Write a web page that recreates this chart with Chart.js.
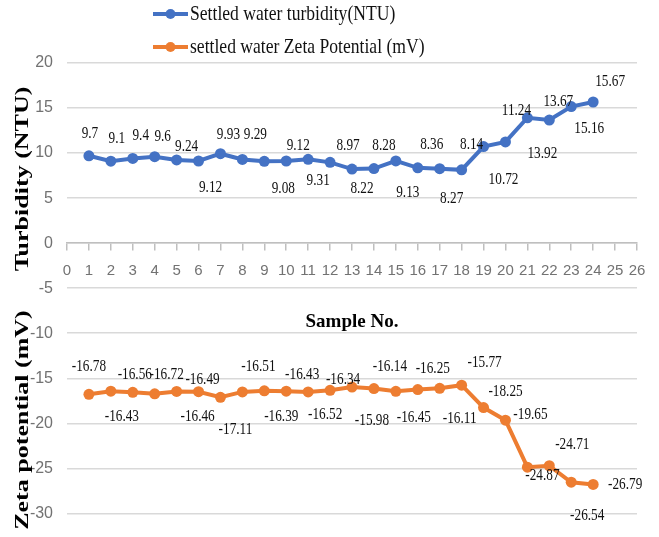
<!DOCTYPE html>
<html>
<head>
<meta charset="utf-8">
<script src="https://cdn.jsdelivr.net/npm/chart.js@4.4.1/dist/chart.umd.min.js"></script>
<style>
  body { margin: 0; background: #fff; }
  #wrap { width: 659px; height: 537px; }
</style>
</head>
<body>
<div id="wrap"><canvas id="chart" width="659" height="537"></canvas></div>
<script>
// data
const sampleNo = [1, 2, 3, 4, 5, 6, 7, 8, 9, 10, 11, 12, 13, 14, 15, 16, 17, 18, 19, 20, 21, 22, 23, 24];
const turbidity = [9.7, 9.1, 9.4, 9.6, 9.24, 9.12, 9.93, 9.29, 9.08, 9.12, 9.31, 8.97, 8.22, 8.28, 9.13, 8.36, 8.27, 8.14, 10.72, 11.24, 13.92, 13.67, 15.16, 15.67];
const zeta = [-16.78, -16.43, -16.56, -16.72, -16.46, -16.49, -17.11, -16.51, -16.39, -16.43, -16.52, -16.34, -15.98, -16.14, -16.45, -16.25, -16.11, -15.77, -18.25, -19.65, -24.87, -24.71, -26.54, -26.79];
const xMin = 0, xMax = 26, xStep = 1;
const yMin = -30, yMax = 20, yStep = 5;

// where each value label sits relative to its point (px)
const turbLabelOffset = [[1,-22],[6,-23],[8,-23],[8,-20],[10,-13],[12,27],[8,-19],[13,-25],[19,27],[12,-15],[10,21],[18,-17],
  [10,19],[10,-23],[12,32],[14,-23],[12,30],[10,-25],[20,33],[11,-31],[15,36],[9,-18],[18,22],[17,-20]];
const zetaLabelOffset = [[0,-28],[11,25],[2,-18],[12,-19],[21,25],[4,-12],[15,32],[16,-25],[17,26],[16,-17],[17,23],[13,-11],
  [20,33],[16,-22],[18,26],[15,-21],[20,30],[23,-23],[22,-16],[25,-6],[15,8],[23,-21],[16,33],[32,0]];

const blue = "#4472C4";
const orange = "#ED7D31";
const serif = "'Liberation Serif', 'Times New Roman', serif";
const narrow = "'Liberation Sans Narrow', 'Liberation Sans', Arial, sans-serif";
const tickGray = "#727272";

// value labels next to the points
const valueLabels = {
  id: "valueLabels",
  afterDatasetsDraw(chart) {
    const ctx = chart.ctx;
    chart.data.datasets.forEach((ds, di) => {
      const meta = chart.getDatasetMeta(di);
      meta.data.forEach((pt, i) => {
        const off = ds.labelOffset[i];
        ctx.save();
        ctx.translate(pt.x + off[0], pt.y + off[1]);
        ctx.scale(0.78, 1);
        ctx.font = "17px " + serif;
        ctx.fillStyle = "#111";
        ctx.textAlign = "center";
        ctx.textBaseline = "middle";
        ctx.fillText(String(ds.data[i].y), 0, 0);
        ctx.restore();
      });
    });
  }
};

// legend stacked in two rows + the two rotated axis titles
const extras = {
  id: "extras",
  afterDraw(chart) {
    const ctx = chart.ctx;
    chart.data.datasets.forEach((ds, i) => {
      const y = 14 + i * 33;
      ctx.save();
      ctx.strokeStyle = ds.borderColor;
      ctx.lineWidth = 4;
      ctx.beginPath();
      ctx.moveTo(153, y);
      ctx.lineTo(188, y);
      ctx.stroke();
      ctx.fillStyle = ds.borderColor;
      ctx.beginPath();
      ctx.arc(170.5, y, 5, 0, Math.PI * 2);
      ctx.fill();
      ctx.translate(190, y);
      ctx.scale(0.8, 1);
      ctx.font = "22px " + serif;
      ctx.fillStyle = "#111";
      ctx.textBaseline = "middle";
      ctx.fillText(ds.label, 0, 0);
      ctx.restore();
    });

    const titles = [["Turbidity (NTU)", 179], ["Zeta potential (mV)", 420]];
    titles.forEach(([text, cy]) => {
      ctx.save();
      ctx.translate(23, cy);
      ctx.rotate(-Math.PI / 2);
      ctx.scale(1, 0.75);
      ctx.font = "bold 26px " + serif;
      ctx.fillStyle = "#000";
      ctx.textAlign = "center";
      ctx.textBaseline = "middle";
      ctx.fillText(text, 0, 0);
      ctx.restore();
    });
  }
};

function makeSeries(values) {
  return sampleNo.map((n, i) => ({ x: n, y: values[i] }));
}

new Chart(document.getElementById("chart"), {
  type: "line",
  data: {
    datasets: [
      {
        label: "Settled water turbidity(NTU)",
        data: makeSeries(turbidity),
        borderColor: blue,
        backgroundColor: blue,
        borderWidth: 4,
        pointRadius: 5.5,
        pointBorderWidth: 0,
        labelOffset: turbLabelOffset
      },
      {
        label: "settled water Zeta Potential (mV)",
        data: makeSeries(zeta),
        borderColor: orange,
        backgroundColor: orange,
        borderWidth: 4,
        pointRadius: 5.5,
        pointBorderWidth: 0,
        labelOffset: zetaLabelOffset
      }
    ]
  },
  options: {
    responsive: false,
    animation: false,
    layout: { padding: { top: 63, right: 22, bottom: 12, left: 0 } },
    plugins: {
      legend: { display: false },
      tooltip: { enabled: false }
    },
    scales: {
      x: {
        type: "linear",
        position: { y: 0 },
        min: xMin,
        max: xMax,
        ticks: {
          stepSize: xStep,
          autoSkip: false,
          maxRotation: 0,
          padding: 12,
          color: tickGray,
          font: { family: narrow, size: 15 }
        },
        grid: { drawOnChartArea: false, color: "#bfbfbf", lineWidth: 1.5, tickLength: 7 },
        border: { color: "#bfbfbf", width: 1.5 },
        title: {
          display: true,
          text: "Sample No.",
          color: "#000",
          font: { family: serif, size: 19, weight: "bold" },
          padding: { top: 19, bottom: 0 }
        }
      },
      y: {
        min: yMin,
        max: yMax,
        ticks: {
          stepSize: yStep,
          padding: 14,
          color: tickGray,
          font: { family: narrow, size: 16 }
        },
        grid: { color: "#d9d9d9", lineWidth: 1.5, drawTicks: false },
        border: { display: false },
        afterFit(scale) { scale.width = 67; }
      }
    }
  },
  plugins: [valueLabels, extras]
});
</script>
</body>
</html>
